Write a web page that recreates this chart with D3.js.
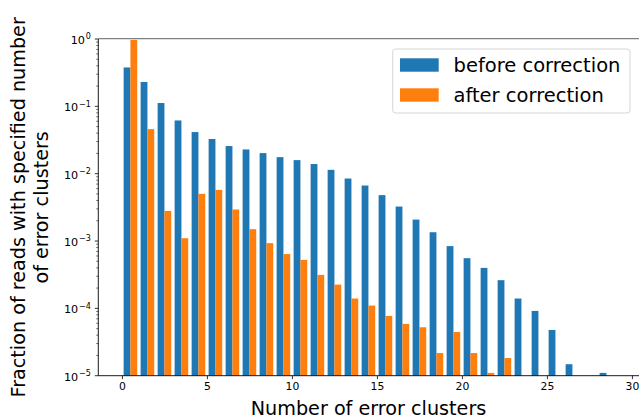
<!DOCTYPE html>
<html>
<head>
<meta charset="utf-8">
<script src="https://cdn.jsdelivr.net/npm/d3@7"></script>
<style>
  html, body { margin: 0; padding: 0; background: #fff; }
  svg { display: block; font-family: "DejaVu Sans", sans-serif; }
</style>
</head>
<body>
<svg id="chart" width="639" height="418"></svg>
<script>
// Number of error clusters per read (histogram bins 0..29)
const bins = d3.range(0, 30);

// Fraction of reads per bin, before error correction (0 = empty bin)
const beforeCorrection = [
  0.378, 0.23, 0.112, 0.0617, 0.0415, 0.0327, 0.0257, 0.0229, 0.0202, 0.0176,
  0.0159, 0.0139, 0.0114, 0.00847, 0.00667, 0.0048, 0.00325, 0.00208, 0.00135, 0.00084,
  0.000556, 0.000399, 0.000262, 0.00014, 0.0000916, 0.0000478, 0.0000148, 0, 0.000011, 0
];

// Fraction of reads per bin, after error correction (0 = empty bin)
const afterCorrection = [
  0.97, 0.0459, 0.0028, 0.0011, 0.00502, 0.00575, 0.00294, 0.0015, 0.00093, 0.00064,
  0.000525, 0.000314, 0.000225, 0.00014, 0.00011, 0.0000772, 0.0000588, 0.0000524, 0.0000217, 0.0000446,
  0.0000217, 0.000011, 0.0000183, 0, 0, 0, 0, 0, 0, 0
];

const seriesNames = ["before correction", "after correction"];
const seriesColors = ["#1f77b4", "#ff7f0e"];
const xTicks = [0, 5, 10, 15, 20, 25, 30];
const yTickExponents = [0, -1, -2, -3, -4, -5];

const svg = d3.select("#chart");

// Plot area
const plotLeft = 98.3, plotTop = 39, plotBottom = 375.7;
const x = d3.scaleLinear().domain([-1.39, 31.39]).range([plotLeft, plotLeft + 32.78 * 17]);
const y = d3.scaleLog().domain([1e-5, 1]).range([plotBottom, plotTop]);

const plot = svg.append("g");

// Bars: two series share each unit bin, each 0.4 wide, offset by 0.1 from bin start
const series = [beforeCorrection, afterCorrection];
series.forEach((vals, si) => {
  plot.selectAll(null)
    .data(bins.filter(b => vals[b] > 0))
    .enter().append("rect")
    .attr("x", b => x(b + 0.1 + 0.4 * si))
    .attr("width", b => x(b + 0.5 + 0.4 * si) - x(b + 0.1 + 0.4 * si))
    .attr("y", b => y(vals[b]))
    .attr("height", b => y(1e-5) - y(vals[b]))
    .attr("fill", seriesColors[si]);
});

// X axis
const xAxis = d3.axisBottom(x).tickValues(xTicks).tickSize(3.5).tickPadding(3.5)
  .tickFormat(d3.format("d"));
const gx = svg.append("g").attr("transform", `translate(0,${plotBottom})`).call(xAxis);
gx.select(".domain").remove();
gx.selectAll("line").attr("stroke", "#000").attr("stroke-width", 0.8);
gx.selectAll("text").attr("font-size", 10.8).attr("fill", "#000")
  .attr("font-family", "DejaVu Sans");

// Y ticks: major at decades, minor at 2..9
const majorVals = yTickExponents.map(e => Math.pow(10, e));
const minorVals = [];
[-5, -4, -3, -2, -1].forEach(e => {
  for (let k = 2; k <= 9; k++) minorVals.push(k * Math.pow(10, e));
});
const gy = svg.append("g").attr("transform", `translate(${plotLeft},0)`);
gy.selectAll("line.minor").data(minorVals).enter().append("line")
  .attr("class", "minor")
  .attr("x1", -2).attr("x2", 0)
  .attr("y1", d => y(d)).attr("y2", d => y(d))
  .attr("stroke", "#000").attr("stroke-width", 0.6);
gy.selectAll("line.major").data(majorVals).enter().append("line")
  .attr("class", "major")
  .attr("x1", -3.5).attr("x2", 0)
  .attr("y1", d => y(d)).attr("y2", d => y(d))
  .attr("stroke", "#000").attr("stroke-width", 0.8);
const yl = gy.selectAll("text.ylab").data(yTickExponents).enter().append("text")
  .attr("class", "ylab")
  .attr("x", -7.5)
  .attr("y", e => y(Math.pow(10, e)) + 5)
  .attr("text-anchor", "end")
  .attr("font-size", 11.2)
  .attr("fill", "#000");
yl.append("tspan").text("10");
yl.append("tspan").attr("dx", 0.8).attr("dy", -4.8).attr("font-size", 8)
  .text(e => e === 0 ? "0" : "\u2212" + Math.abs(e));

// Spines
svg.append("line").attr("x1", plotLeft).attr("x2", 639).attr("y1", 38.6).attr("y2", 38.6)
  .attr("stroke", "#808080").attr("stroke-width", 1.4);
svg.append("line").attr("x1", plotLeft).attr("x2", plotLeft).attr("y1", plotTop).attr("y2", plotBottom)
  .attr("stroke", "#000").attr("stroke-width", 0.9);
svg.append("line").attr("x1", plotLeft).attr("x2", 639).attr("y1", plotBottom).attr("y2", plotBottom)
  .attr("stroke", "#000").attr("stroke-width", 0.9);

// Axis titles
svg.append("text")
  .attr("x", 368.5)
  .attr("y", 414.5)
  .attr("text-anchor", "middle")
  .attr("font-size", 19.2)
  .attr("fill", "#000")
  .text("Number of error clusters");

const ytitle = svg.append("text")
  .attr("transform", `translate(0,${(plotTop + plotBottom) / 2}) rotate(-90)`)
  .attr("text-anchor", "middle")
  .attr("font-size", 19.2)
  .attr("fill", "#000");
ytitle.append("tspan").attr("x", 0).attr("y", 24.5).text("Fraction of reads with specified number");
ytitle.append("tspan").attr("x", 0).attr("y", 48).text("of error clusters");

// Legend
const legend = svg.append("g");
legend.append("rect")
  .attr("x", 392.7).attr("y", 49).attr("width", 237.3).attr("height", 64)
  .attr("rx", 3).attr("ry", 3)
  .attr("fill", "#fff").attr("fill-opacity", 0.8)
  .attr("stroke", "#d6d6d6").attr("stroke-width", 1);
seriesNames.forEach((name, i) => {
  const yy = 58.3 + i * 30;
  legend.append("rect")
    .attr("x", 400).attr("y", yy).attr("width", 38.7).attr("height", 13.4)
    .attr("fill", seriesColors[i]);
  legend.append("text")
    .attr("x", 453.5).attr("y", yy + 13.4)
    .attr("font-size", 19.5).attr("fill", "#000")
    .text(name);
});
</script>
</body>
</html>
